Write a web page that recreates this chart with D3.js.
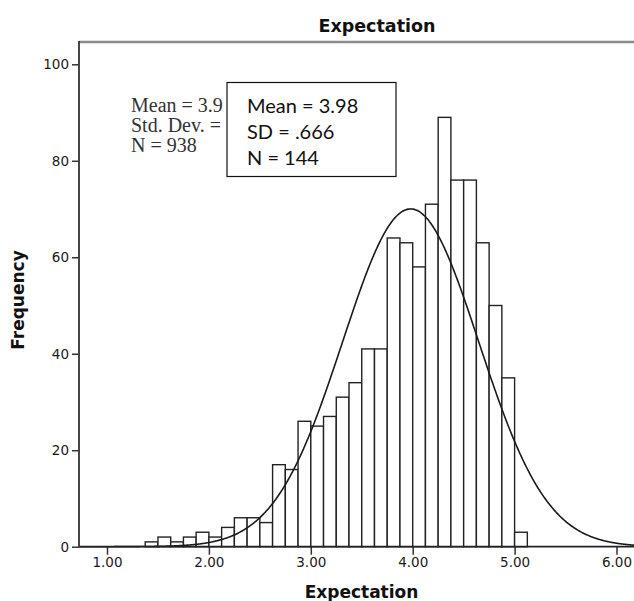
<!DOCTYPE html>
<html>
<head>
<meta charset="utf-8">
<script src="https://cdn.jsdelivr.net/npm/d3@7"></script>
<style>
    body { margin: 0; background: #fff; }
    svg { display: block; }
    .bar { fill: #fff; stroke: #222; stroke-width: 1.4; }
    .curve { fill: none; stroke: #1a1a1a; stroke-width: 1.6; }
    .axis line { stroke: #333; stroke-width: 1.5; }
</style>
</head>
<body>
<svg width="634" height="601"></svg>
<script>
// histogram bins (width .125, first edge 1.375)
const bin_start = 1.375;
const bin_width = 0.125;
const bin_counts = [1, 2, 1, 2, 3, 2, 4, 6, 6, 5, 17, 16, 26, 25, 27, 31, 34, 41, 41,
    64, 63, 58, 71, 89, 76, 76, 63, 50, 35, 3];

// normal curve parameters from the SPSS legend
const curve_mean = 3.98;
const curve_sd = 0.668;
const curve_n = 938;

const x_ticks = [1, 2, 3, 4, 5, 6];
const y_ticks = [0, 20, 40, 60, 80, 100];

// SPSS legend, only the part left of the pasted box shows
const spss_lines = ['Mean = 3.9', 'Std. Dev. =', 'N = 938'];
const box_lines = ['Mean = 3.98', 'SD = .666', 'N = 144'];

const chart_title = 'Expectation';
const x_title = 'Expectation';
const y_title = 'Frequency';

graphBuild();

function normalPdf(v, m, s) {
    return Math.exp(-0.5 * Math.pow((v - m) / s, 2)) / (s * Math.sqrt(2 * Math.PI));
}

function styleTicks(g) {
    g.selectAll('text')
        .style('font-family', '"DejaVu Sans", sans-serif')
        .style('font-size', '13.5px')
        .style('fill', '#1a1a1a');
}

function graphBuild() {
    let svg, width, height, x, y, plot_left, plot_top, bins, line, xs;
    let box_x = 227, box_y = 82.5;

    svg = d3.select('svg');
    width = 634;
    height = 601;

    plot_left = 79;
    plot_top = 42;

    x = d3.scaleLinear().domain([1, 6]).range([107, 616.5]);
    y = d3.scaleLinear().domain([0, 100]).range([546.7, 64.3]);

    bins = bin_counts.map(function (c, i) {
        return {
            x0: bin_start + i * bin_width,
            x1: bin_start + (i + 1) * bin_width,
            count: c
        };
    });

    svg.append('defs').append('clipPath')
        .attr('id', 'legend-clip')
        .append('rect')
        .attr('x', 0).attr('y', 0)
        .attr('width', box_x - 1).attr('height', height);

    // top frame line
    svg.append('line')
        .attr('x1', plot_left).attr('x2', width)
        .attr('y1', plot_top).attr('y2', plot_top)
        .attr('stroke', '#8a8a8a').attr('stroke-width', 2.5);

    // old SPSS legend, cut by the box
    let spss = svg.append('text')
        .attr('x', 131)
        .attr('y', 112)
        .attr('clip-path', 'url(#legend-clip)')
        .style('font-family', '"Liberation Serif", serif')
        .style('font-size', '20px')
        .style('fill', '#333');
    spss.selectAll('tspan').data(spss_lines).enter().append('tspan')
        .attr('x', 131)
        .attr('dy', function (d, i) { return i === 0 ? 0 : 20; })
        .text(function (d) { return d; });

    svg.append('g').selectAll('.bar').data(bins).enter().append('rect')
        .attr('class', 'bar')
        .attr('x', function (d) { return x(d.x0); })
        .attr('width', function (d) { return x(d.x1) - x(d.x0); })
        .attr('y', function (d) { return y(d.count); })
        .attr('height', function (d) { return y(0) - y(d.count); });

    xs = d3.range(x.invert(plot_left), x.invert(width) + 0.02, 0.01);
    line = d3.line()
        .curve(d3.curveBasis)
        .x(function (d) { return x(d); })
        .y(function (d) {
            return y(curve_n * bin_width * normalPdf(d, curve_mean, curve_sd));
        });

    svg.append('path')
        .attr('class', 'curve')
        .attr('d', line(xs));

    // axes
    let x_axis = svg.append('g')
        .attr('class', 'axis')
        .attr('transform', 'translate(0,' + y(0) + ')')
        .call(d3.axisBottom(x).tickValues(x_ticks).tickFormat(d3.format('.2f')).tickSize(8).tickPadding(3));
    x_axis.select('.domain').remove();
    styleTicks(x_axis);

    let y_axis = svg.append('g')
        .attr('class', 'axis')
        .attr('transform', 'translate(' + plot_left + ',0)')
        .call(d3.axisLeft(y).tickValues(y_ticks).tickSize(7).tickPadding(3));
    y_axis.select('.domain').remove();
    styleTicks(y_axis);

    svg.append('line')
        .attr('x1', plot_left).attr('x2', width)
        .attr('y1', y(0)).attr('y2', y(0))
        .attr('stroke', '#222').attr('stroke-width', 1.8);

    svg.append('line')
        .attr('x1', plot_left).attr('x2', plot_left)
        .attr('y1', plot_top - 1).attr('y2', y(0))
        .attr('stroke', '#333').attr('stroke-width', 1.8);

    // pasted box
    svg.append('rect')
        .attr('x', box_x).attr('y', box_y)
        .attr('width', 169).attr('height', 94)
        .attr('fill', '#fff').attr('stroke', '#111').attr('stroke-width', 1.2);

    let box = svg.append('text')
        .attr('x', 247)
        .attr('y', 113)
        .style('font-family', 'Lato, "Open Sans", sans-serif')
        .style('font-size', '20px')
        .style('fill', '#111');
    box.selectAll('tspan').data(box_lines).enter().append('tspan')
        .attr('x', 247)
        .attr('dy', function (d, i) { return i === 0 ? 0 : 26; })
        .text(function (d) { return d; });

    // titles
    svg.append('text')
        .attr('x', 377).attr('y', 31.5)
        .attr('text-anchor', 'middle')
        .style('font-family', '"DejaVu Sans", sans-serif')
        .style('font-weight', 'bold')
        .style('font-size', '17.5px')
        .style('fill', '#111')
        .text(chart_title);

    svg.append('text')
        .attr('x', 361.5).attr('y', 598)
        .attr('text-anchor', 'middle')
        .style('font-family', '"DejaVu Sans", sans-serif')
        .style('font-weight', 'bold')
        .style('font-size', '17px')
        .style('fill', '#111')
        .text(x_title);

    svg.append('text')
        .attr('transform', 'translate(23.5,300) rotate(-90)')
        .attr('text-anchor', 'middle')
        .style('font-family', '"DejaVu Sans", sans-serif')
        .style('font-weight', 'bold')
        .style('font-size', '17px')
        .style('fill', '#111')
        .text(y_title);
}
</script>
</body>
</html>
